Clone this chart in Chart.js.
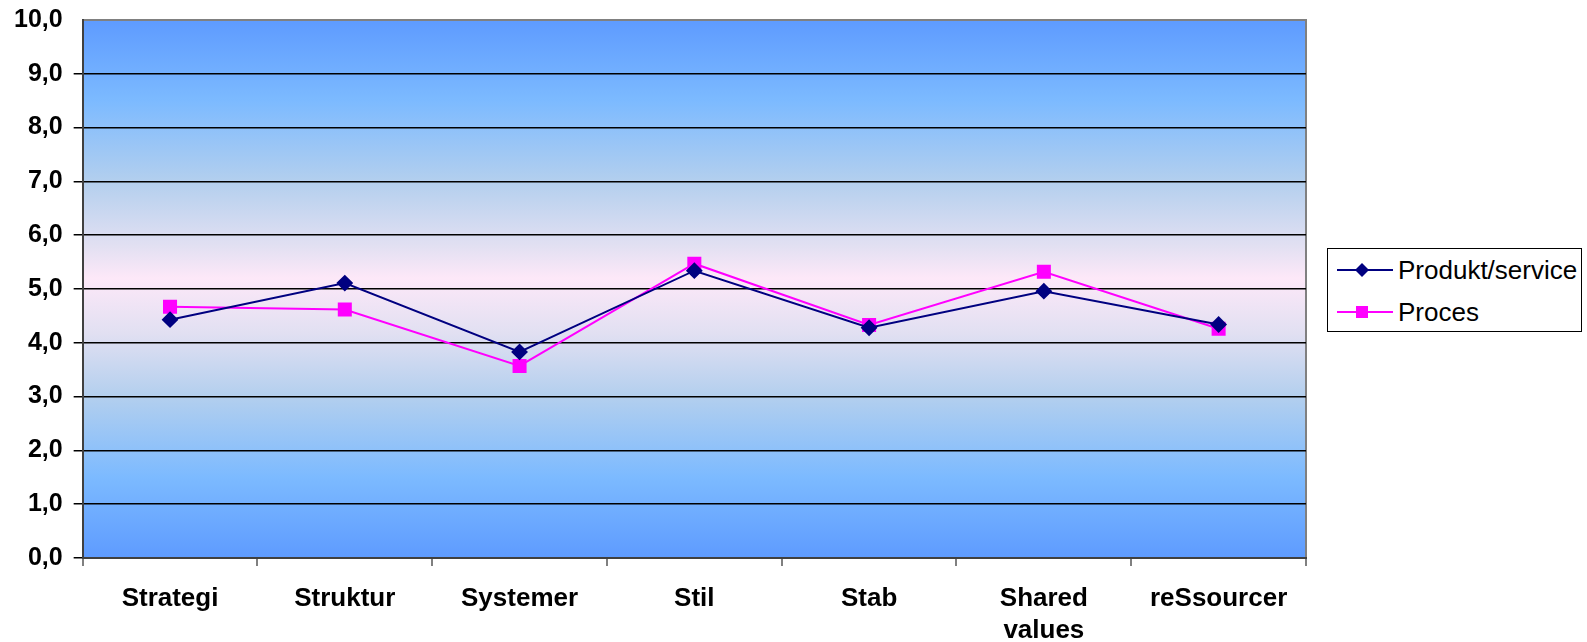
<!DOCTYPE html>
<html>
<head>
<meta charset="utf-8">
<script src="https://cdn.jsdelivr.net/npm/chart.js@4/dist/chart.umd.min.js"></script>
<style>
  html, body { margin: 0; padding: 0; background: #fff; overflow: hidden; }
  #wrap { position: relative; width: 1587px; height: 642px; overflow: hidden; }
  #chart { display: block; }
  #legend {
    position: absolute; left: 1327px; top: 248px; width: 253px; height: 82px;
    border: 1px solid #000; background: #fff;
    font-family: "Liberation Sans", Arial, sans-serif; font-size: 26px; color: #000;
  }
  #legend .item { position: absolute; left: 9px; height: 30px; display: flex; align-items: center; white-space: nowrap; }
  #legend svg { margin-right: 5px; }
</style>
</head>
<body>
<div id="wrap">
  <canvas id="chart" width="1587" height="642"></canvas>
  <div id="legend"></div>
</div>
<script>
document.addEventListener("DOMContentLoaded", function () {

    const categories = ["Strategi", "Struktur", "Systemer", "Stil", "Stab", ["Shared", "values"], "reSsourcer"];
    const seriesNames = ["Produkt/service", "Proces"];
    const produktValues = [4.43, 5.11, 3.83, 5.34, 4.28, 4.96, 4.34];
    const procesValues = [4.67, 4.62, 3.57, 5.47, 4.33, 5.32, 4.26];
    const yTicks = [0, 1, 2, 3, 4, 5, 6, 7, 8, 9, 10];

    const font = "'Liberation Sans', Arial, sans-serif";

    // gradient behind the plot, blue - pink - blue
    const plotBackground = {
        id: "plotBackground",
        beforeDraw(chart) {
            const a = chart.chartArea;
            const c = chart.ctx;
            const g = c.createLinearGradient(0, a.top, 0, a.bottom);
            g.addColorStop(0, "#5e9bff");
            g.addColorStop(0.15, "#7cbaff");
            g.addColorStop(0.3, "#b3cfee");
            g.addColorStop(0.42, "#e2e0f2");
            g.addColorStop(0.48, "#fde8f8");
            g.addColorStop(0.58, "#e2e0f2");
            g.addColorStop(0.7, "#b3cfee");
            g.addColorStop(0.85, "#7cbaff");
            g.addColorStop(1, "#5e9bff");
            c.save();
            c.fillStyle = g;
            c.fillRect(a.left, a.top, a.right - a.left, a.bottom - a.top);
            c.strokeStyle = "#808080";
            c.lineWidth = 2;
            c.beginPath();
            c.moveTo(a.left, a.top);
            c.lineTo(a.right, a.top);
            c.lineTo(a.right, a.bottom);
            c.stroke();
            c.restore();
        }
    };

    const ctx = document.getElementById("chart").getContext("2d");
    new Chart(ctx, {
        type: "line",
        data: {
            labels: categories,
            datasets: [
                {
                    label: seriesNames[0],
                    data: produktValues,
                    borderColor: "#000080",
                    backgroundColor: "#000080",
                    borderWidth: 2,
                    pointStyle: "rectRot",
                    pointRadius: 7,
                    pointHoverRadius: 7
                },
                {
                    label: seriesNames[1],
                    data: procesValues,
                    borderColor: "#ff00ff",
                    backgroundColor: "#ff00ff",
                    borderWidth: 2,
                    pointStyle: "rect",
                    pointRadius: 8.5,
                    pointHoverRadius: 8.5
                }
            ]
        },
        options: {
            responsive: false,
            animation: false,
            layout: { padding: { left: 3, top: 20, right: 281, bottom: 0 } },
            plugins: { legend: { display: false }, tooltip: { enabled: false } },
            scales: {
                x: {
                    offset: true,
                    afterFit(axis) { axis.height = 84; },
                    grid: { offset: true, drawOnChartArea: false, tickLength: 8, color: "#808080", lineWidth: 2 },
                    border: { color: "#404040", width: 2 },
                    ticks: {
                        color: "#000", padding: 16, maxRotation: 0,
                        font: { family: font, size: 26, weight: "bold", lineHeight: 1.26 }
                    }
                },
                y: {
                    min: 0, max: 10,
                    afterBuildTicks(axis) { axis.ticks = yTicks.map(v => ({ value: v })); },
                    afterFit(axis) { axis.paddingTop = 0; axis.paddingBottom = 0; },
                    grid: {
                        tickLength: 9, lineWidth: 1.5,
                        color: c => (c.tick && c.tick.value === 10 ? "rgba(0,0,0,0)" : "#000")
                    },
                    border: { color: "#404040", width: 2 },
                    ticks: {
                        color: "#000", padding: 11,
                        font: { family: font, size: 25, weight: "bold" },
                        callback: v => v.toFixed(1).replace(".", ",")
                    }
                }
            }
        },
        plugins: [plotBackground]
    });

    // legend with line + marker icons
    const icons = [
        '<svg width="56" height="16"><line x1="0" y1="8" x2="56" y2="8" stroke="#000080" stroke-width="2"/><polygon points="25,1 32,8 25,15 18,8" fill="#000080"/></svg>',
        '<svg width="56" height="16"><line x1="0" y1="8" x2="56" y2="8" stroke="#ff00ff" stroke-width="2"/><rect x="19" y="2" width="12" height="12" fill="#ff00ff"/></svg>'
    ];
    const legend = document.getElementById("legend");
    seriesNames.forEach(function (name, i) {
        const item = document.createElement("div");
        item.className = "item";
        item.style.top = (6 + i * 42) + "px";
        item.innerHTML = icons[i] + "<span>" + name + "</span>";
        legend.appendChild(item);
    });
});
</script>
</body>
</html>
